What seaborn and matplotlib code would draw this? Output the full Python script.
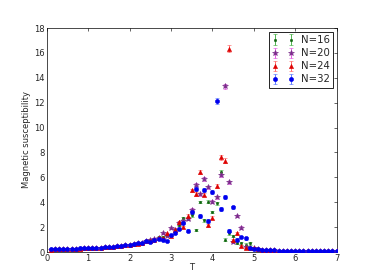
import numpy as np
import pandas as pd
import seaborn as sns
import matplotlib
matplotlib.use("Agg")
import matplotlib.pyplot as plt

# temperatures 0.1 ... 7.0
T = [round(0.1 * i, 1) for i in range(1, 71)]

chi_16 = [0.20, 0.21, 0.22, 0.23, 0.24, 0.25, 0.27, 0.28, 0.29, 0.30,
          0.32, 0.33, 0.35, 0.37, 0.39, 0.42, 0.46, 0.50, 0.55, 0.58,
          0.60, 0.68, 0.75, 0.85, 1.00, 1.00, 1.20, 1.20, 1.35, 1.40,
          1.80, 2.20, 2.75, 2.70, 2.95, 1.75, 4.00, 2.55, 4.05, 3.20,
          3.90, 6.45, 1.00, 1.50, 1.30, 0.75, 0.70, 0.60, 0.70, 0.30,
          0.22, 0.18, 0.16, 0.14, 0.13, 0.12, 0.11, 0.10, 0.09, 0.09,
          0.08, 0.08, 0.07, 0.07, 0.07, 0.06, 0.06, 0.06, 0.06, 0.05]

chi_20 = [0.20, 0.21, 0.22, 0.23, 0.24, 0.25, 0.27, 0.28, 0.29, 0.30,
          0.32, 0.33, 0.35, 0.37, 0.39, 0.42, 0.46, 0.50, 0.55, 0.58,
          0.63, 0.70, 0.76, 0.88, 0.95, 1.02, 1.10, 1.50, 1.30, 1.90,
          1.80, 2.30, 2.50, 2.65, 3.40, 5.40, 4.65, 5.85, 5.20, 4.05,
          4.40, 6.15, 13.30, 5.60, 0.80, 2.90, 1.95, 0.40, 0.35, 0.30,
          0.22, 0.18, 0.16, 0.14, 0.13, 0.12, 0.11, 0.10, 0.09, 0.09,
          0.08, 0.08, 0.07, 0.07, 0.07, 0.06, 0.06, 0.06, 0.06, 0.05]

chi_24 = [0.20, 0.21, 0.22, 0.23, 0.24, 0.25, 0.27, 0.28, 0.29, 0.30,
          0.32, 0.33, 0.35, 0.37, 0.39, 0.42, 0.46, 0.50, 0.55, 0.58,
          0.62, 0.68, 0.74, 0.85, 0.90, 0.98, 1.15, 1.10, 1.50, 1.30,
          1.80, 2.40, 2.00, 2.90, 4.95, 4.65, 6.45, 4.60, 2.15, 2.75,
          5.30, 7.60, 7.35, 16.35, 0.95, 1.50, 0.50, 0.30, 0.30, 0.35,
          0.22, 0.18, 0.16, 0.14, 0.13, 0.12, 0.11, 0.10, 0.09, 0.09,
          0.08, 0.08, 0.07, 0.07, 0.07, 0.06, 0.06, 0.06, 0.06, 0.05]

chi_32 = [0.22, 0.23, 0.24, 0.25, 0.26, 0.27, 0.28, 0.30, 0.31, 0.32,
          0.33, 0.35, 0.36, 0.38, 0.40, 0.43, 0.47, 0.52, 0.56, 0.60,
          0.62, 0.72, 0.75, 0.90, 0.82, 1.00, 1.05, 1.00, 0.90, 1.35,
          1.55, 1.85, 2.35, 1.70, 3.20, 5.10, 2.90, 5.00, 2.50, 4.80,
          12.15, 3.45, 4.40, 1.70, 3.60, 1.00, 1.20, 1.10, 0.30, 0.25,
          0.22, 0.18, 0.16, 0.14, 0.13, 0.12, 0.11, 0.10, 0.09, 0.09,
          0.08, 0.08, 0.07, 0.07, 0.07, 0.06, 0.06, 0.06, 0.06, 0.05]

# error bars (only noticeable near the transition)
err_16 = [0.05] * 30 + [0.1, 0.1, 0.1, 0.1, 0.1, 0.1, 0.1, 0.1, 0.1, 0.1,
                        0.12, 0.15, 0.1, 0.1, 0.1, 0.1, 0.1, 0.1, 0.1, 0.08] + [0.03] * 20
err_20 = [0.05] * 30 + [0.1, 0.1, 0.1, 0.1, 0.12, 0.15, 0.12, 0.15, 0.12, 0.12,
                        0.12, 0.15, 0.22, 0.12, 0.1, 0.1, 0.1, 0.08, 0.08, 0.08] + [0.03] * 20
err_24 = [0.05] * 30 + [0.1, 0.12, 0.1, 0.12, 0.15, 0.15, 0.15, 0.12, 0.12, 0.12,
                        0.15, 0.18, 0.18, 0.28, 0.1, 0.1, 0.08, 0.08, 0.08, 0.08] + [0.03] * 20
err_32 = [0.08] * 30 + [0.1, 0.12, 0.12, 0.12, 0.15, 0.18, 0.15, 0.15, 0.15, 0.15,
                        0.25, 0.15, 0.15, 0.12, 0.12, 0.1, 0.1, 0.1, 0.08, 0.08] + [0.05] * 20

labels = ["N=16", "N=20", "N=24", "N=32"]

df = pd.DataFrame({"T": T * 4,
                   "chi": chi_16 + chi_20 + chi_24 + chi_32,
                   "err": err_16 + err_20 + err_24 + err_32,
                   "N": sum([[lab] * len(T) for lab in labels], [])})

sns.set_style("white", {"xtick.direction": "in", "ytick.direction": "in",
                        "axes.edgecolor": "black"})
plt.rcParams["font.family"] = ["DejaVu Sans"]

fig, ax = plt.subplots(figsize=(3.74, 2.80), dpi=100)
fig.subplots_adjust(left=0.125, right=0.9, bottom=0.1, top=0.9)

styles = {"N=16": dict(fmt=".", color="#116611", ecolor="#33aa33", ms=3.5),
          "N=20": dict(fmt="*", color="#7a2a8a", ecolor="#dd44dd", ms=3.8),
          "N=24": dict(fmt="^", color="#dd0000", ecolor="#ff5555", ms=3),
          "N=32": dict(fmt="o", color="#0000ee", ecolor="#4466ff", ms=3)}

for lab in labels:
    sub = df[df["N"] == lab]
    st = styles[lab]
    ax.errorbar(sub["T"], sub["chi"], yerr=sub["err"], fmt=st["fmt"],
                color=st["color"], ecolor=st["ecolor"], ms=st["ms"],
                mec=st["color"], mew=0.4, elinewidth=0.6, capsize=1.5,
                capthick=0.6, label=lab, zorder=3)

ax.set_xlim(0, 7)
ax.set_ylim(0, 18)
ax.set_xticks(range(0, 8))
ax.set_yticks(range(0, 19, 2))
ax.tick_params(labelsize=6, length=2.5, width=0.5, top=True, right=True, pad=1.5)
for s in ax.spines.values():
    s.set_linewidth(0.5)
ax.set_xlabel("T", fontsize=6, labelpad=0)
ax.set_ylabel("Magnetic susceptibility", fontsize=6, labelpad=2)

leg = ax.legend(loc="upper right", fontsize=7.3, numpoints=2, fancybox=False,
                framealpha=1, borderpad=0.35, labelspacing=0.3, handletextpad=0.6,
                handlelength=2.2, borderaxespad=0.35)
leg.get_frame().set_edgecolor("black")
leg.get_frame().set_linewidth(0.6)

fig.savefig("out.png", dpi=100)
